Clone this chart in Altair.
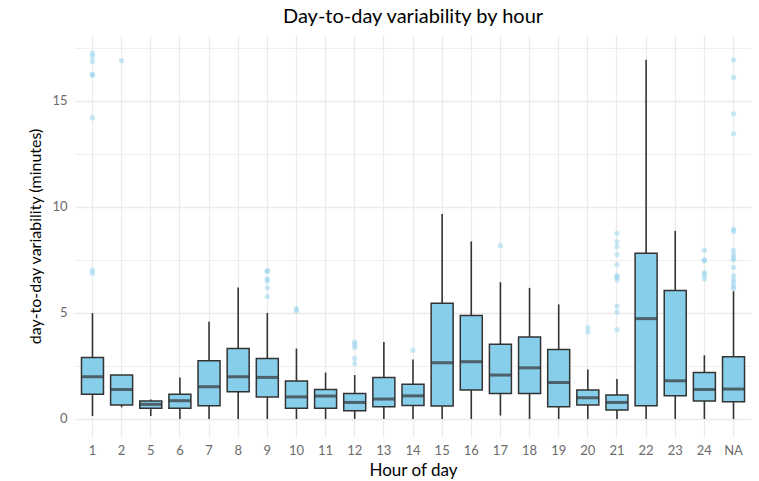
import altair as alt
import pandas as pd

hours = ["1", "2", "5", "6", "7", "8", "9", "10", "11", "12", "13", "14", "15",
         "16", "17", "18", "19", "20", "21", "22", "23", "24", "NA"]
lower = [0.14, 0.55, 0.14, 0, 0, 0, 0, 0, 0, 0, 0, 0, 0,
         0, 0.16, 0, 0, 0, 0, 0, 0, 0, 0]
q1 = [1.17, 0.66, 0.50, 0.50, 0.62, 1.28, 1.04, 0.50, 0.50, 0.39, 0.58, 0.64, 0.61,
      1.36, 1.20, 1.20, 0.58, 0.66, 0.42, 0.62, 1.09, 0.85, 0.81]
median = [1.99, 1.39, 0.69, 0.86, 1.52, 1.99, 1.96, 1.04, 1.08, 0.78, 0.94, 1.09, 2.65,
          2.70, 2.07, 2.41, 1.72, 1.00, 0.78, 4.73, 1.80, 1.39, 1.41]
q3 = [2.90, 2.07, 0.85, 1.17, 2.74, 3.32, 2.85, 1.79, 1.39, 1.20, 1.96, 1.64, 5.46,
      4.88, 3.52, 3.86, 3.27, 1.36, 1.13, 7.81, 6.06, 2.19, 2.93]
upper = [4.99, 2.07, 0.92, 1.96, 4.58, 6.20, 5.00, 3.32, 2.19, 2.07, 3.63, 2.80, 9.66,
         8.37, 6.45, 6.18, 5.40, 2.33, 1.88, 16.93, 8.87, 3.00, 6.02]

outlier_hours = (["1"] * 8 + ["2"] + ["9"] * 6 + ["10"] * 2 + ["12"] * 5 + ["14"]
                 + ["17"] + ["20"] * 2 + ["21"] * 11 + ["24"] * 6 + ["NA"] * 16)
outlier_values = [17.24, 17.09, 16.85, 16.25, 16.20, 14.19, 7.00, 6.87,
                  16.89,
                  7.00, 6.95, 6.60, 6.50, 6.18, 5.77,
                  5.20, 5.10,
                  3.63, 3.50, 3.37, 2.85, 2.61,
                  3.24,
                  8.17,
                  4.30, 4.10,
                  8.75, 8.36, 8.12, 7.75, 7.28, 6.76, 6.68, 6.56, 5.32, 5.04, 4.21,
                  7.95, 7.50, 7.45, 6.90, 6.80, 6.60,
                  16.93, 16.10, 14.38, 13.44, 8.95, 8.84, 7.95, 7.76, 7.60, 7.50,
                  7.15, 6.76, 6.56, 6.42, 6.26, 6.14]

box = pd.DataFrame({"hour": hours, "lower": lower, "q1": q1, "median": median,
                    "q3": q3, "upper": upper})
outl = pd.DataFrame({"hour": outlier_hours, "value": outlier_values})

FONT = "Lato"
BOX_FILL = "#87CEEB"
DARK = "#333333"

x_enc = alt.X("hour:N", sort=hours,
              scale=alt.Scale(paddingInner=0, paddingOuter=0.1),
              axis=alt.Axis(title="Hour of day", labelAngle=0, bandPosition=0.5,
                            ticks=False, tickSize=0, domain=False,
                            labelPadding=7, labelFontSize=13, labelColor="#6b6b6b",
                            labelFont=FONT, titleFont=FONT, titleFontSize=17,
                            titleFontWeight="normal", titleColor="black",
                            titlePadding=5, grid=True, gridColor="#ebebeb",
                            gridWidth=1.2))

y_scale = alt.Scale(domain=[-0.85, 18.1], nice=False, zero=False)
y_axis = alt.Axis(title="day-to-day variability (minutes)",
                  values=[0, 2.5, 5, 7.5, 10, 12.5, 15, 17.5],
                  labelExpr="datum.value % 5 === 0 ? datum.label : ''",
                  ticks=False, tickSize=0, domain=False, labelPadding=8,
                  labelFontSize=13, labelColor="#6b6b6b", labelFont=FONT,
                  titleFont=FONT, titleFontSize=16, titleFontWeight="normal",
                  titleColor="black", titlePadding=8, grid=True,
                  gridColor="#ebebeb",
                  gridWidth={"condition": {"test": "datum.value % 5 === 0", "value": 1.3},
                             "value": 0.8})

base = alt.Chart(box)

whisk = base.mark_rule(color=DARK, strokeWidth=1.6).encode(
    x=x_enc,
    y=alt.Y("lower:Q", scale=y_scale, axis=y_axis),
    y2="upper:Q",
)

boxes = base.mark_bar(size=22, color=BOX_FILL, stroke=DARK, strokeWidth=1.5).encode(
    x=alt.X("hour:N", sort=hours),
    y=alt.Y("q1:Q"),
    y2="q3:Q",
)

med = base.mark_tick(color=DARK, size=22, thickness=3).encode(
    x=alt.X("hour:N", sort=hours),
    y=alt.Y("median:Q"),
)

pts = alt.Chart(outl).mark_circle(color=BOX_FILL, opacity=0.45, size=28).encode(
    x=alt.X("hour:N", sort=hours),
    y=alt.Y("value:Q"),
)

chart = alt.layer(whisk, boxes, med, pts).properties(
    width=676,
    height=402,
    autosize=alt.AutoSizeParams(type="none"),
    padding={"left": 75, "top": 35, "right": 8, "bottom": 44},
    background="white",
    title=alt.TitleParams("Day-to-day variability by hour", font=FONT, fontSize=20,
                          fontWeight="normal", color="black", anchor="middle",
                          offset=8),
).configure_view(stroke=None)

chart.save("out.html", embed_options={"renderer": "svg", "actions": False})
